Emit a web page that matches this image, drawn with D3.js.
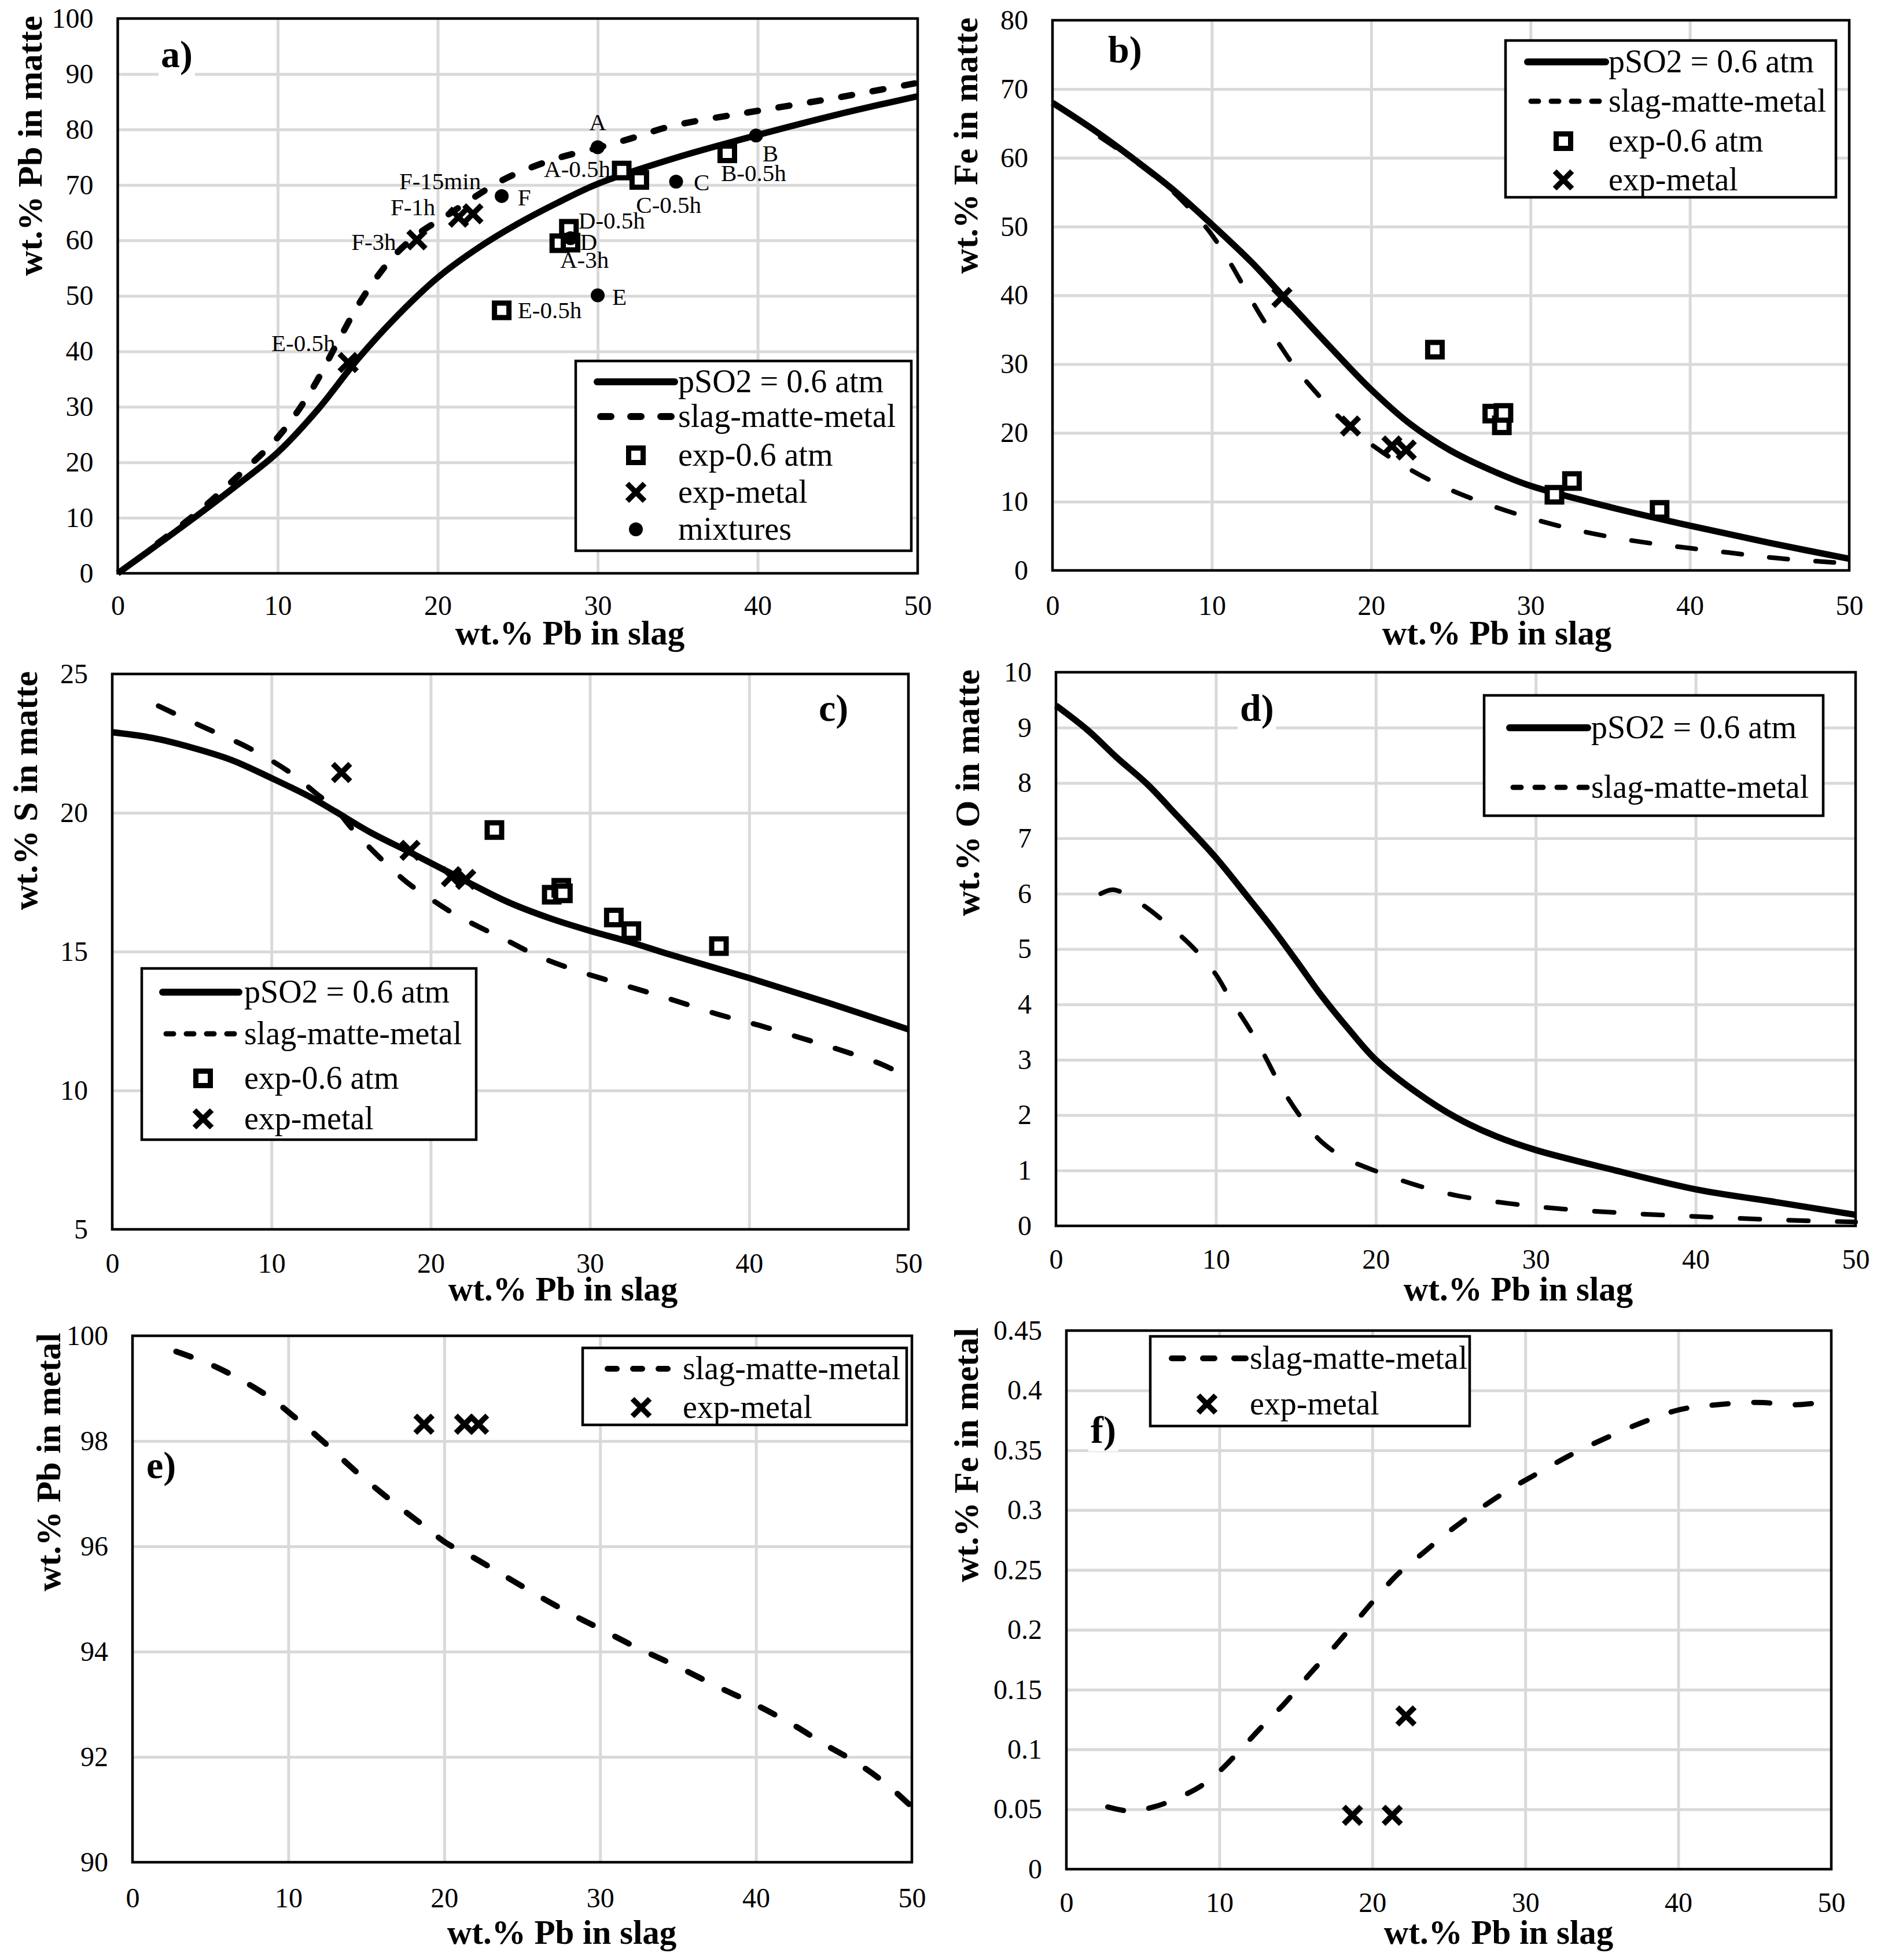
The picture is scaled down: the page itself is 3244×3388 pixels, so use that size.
<!DOCTYPE html>
<html>
<head>
<meta charset="utf-8">
<script src="https://cdnjs.cloudflare.com/ajax/libs/d3/7.8.5/d3.min.js"></script>
<style>
  body { margin: 0; background: #fff; }
  svg text { font-family: "Liberation Serif", "Times New Roman", serif; fill: #000; }
</style>
</head>
<body>
<div id="chart"></div>
<script>
// ---- tick labels ----
var xTicks = [0, 10, 20, 30, 40, 50];
var pbMatteTicks = [0, 10, 20, 30, 40, 50, 60, 70, 80, 90, 100];
var feMatteTicks = [0, 10, 20, 30, 40, 50, 60, 70, 80];
var sMatteTicks = [5, 10, 15, 20, 25];
var oMatteTicks = [0, 1, 2, 3, 4, 5, 6, 7, 8, 9, 10];
var pbMetalTicks = [90, 92, 94, 96, 98, 100];
var feMetalTicks = [0, 0.05, 0.1, 0.15, 0.2, 0.25, 0.3, 0.35, 0.4, 0.45];

// ---- model curves (wt.% Pb in slag on x) ----
var aPso2X = [0, 2.5, 5, 7.5, 10, 12.5, 15, 17.5, 20, 22.5, 25, 27.5, 30, 35, 40, 45, 50];
var aPso2Y = [0, 5.2, 10.5, 16, 21.8, 29.5, 38.6, 46.5, 53.3, 58.6, 63.0, 66.8, 70.2, 75, 79, 82.7, 86];
var aSmmX = [2.5, 5, 7.5, 10, 12, 13.9, 15, 16.1, 17.3, 18.7, 20, 21, 22.4, 24, 25.8, 27.7, 30, 32.1, 34.2, 36.3, 38.4, 40.3, 42.4, 44.5, 47, 50];
var aSmmY = [5.4, 11, 17.5, 24.5, 32.5, 42.5, 48.2, 53, 57.3, 61, 63.5, 65.3, 68, 70.8, 73.1, 75, 76.7, 78.4, 80.3, 81.6, 82.6, 83.5, 84.5, 85.5, 86.8, 88.4];

var bPso2X = [0, 2.5, 5, 7.5, 10, 12.5, 14.3, 17.5, 20, 22.5, 25, 27.5, 30, 35, 40, 45, 50];
var bPso2Y = [68, 64.2, 60, 55.5, 50.3, 44.8, 40.3, 32.3, 26.3, 21.2, 17.4, 14.6, 12.3, 9.2, 6.5, 4.0, 1.7];
var bSmmX = [3, 5, 7.5, 9.3, 10, 11, 12, 13, 14.2, 15.3, 16.8, 18.3, 20.2, 22.2, 24.5, 27.2, 30.3, 33.4, 36.5, 39.4, 42.4, 45.4, 48.8, 50];
var bSmmY = [63, 59.8, 55.2, 50.8, 48.8, 45.3, 41.3, 37.3, 33, 29.3, 25.2, 21.6, 18, 15, 12.2, 9.7, 7.4, 5.6, 4.3, 3.4, 2.6, 1.8, 1.2, 1.0];

var cPso2X = [0, 2.5, 5, 7.5, 10, 12.5, 14, 16.2, 18.8, 21.5, 24.8, 27.5, 30, 32.5, 35, 40, 45, 50];
var cPso2Y = [22.9, 22.7, 22.35, 21.9, 21.25, 20.55, 20.05, 19.3, 18.55, 17.75, 16.8, 16.2, 15.75, 15.35, 14.9, 14.05, 13.15, 12.2];
var cSmmX = [2.9, 5.3, 8.7, 11.3, 12.8, 14, 15.1, 16.6, 18.5, 20, 21.5, 23, 24.8, 26.7, 29, 32.4, 35, 38, 40.6, 43.2, 45.5, 48.5, 50];
var cSmmY = [23.85, 23.2, 22.3, 21.4, 20.7, 20.15, 19.4, 18.5, 17.5, 16.9, 16.35, 15.9, 15.4, 14.85, 14.35, 13.75, 13.3, 12.75, 12.35, 11.9, 11.5, 10.9, 10.45];

var dPso2X = [0, 2, 3.8, 5.7, 7.6, 10, 12.1, 13.6, 15.1, 16.6, 18.4, 20, 22.6, 25, 27.5, 30, 35, 40, 45, 50];
var dPso2Y = [9.4, 8.95, 8.46, 7.98, 7.4, 6.65, 5.9, 5.35, 4.76, 4.16, 3.52, 3.0, 2.4, 1.96, 1.62, 1.37, 1.0, 0.66, 0.43, 0.2];
var dSmmX = [2.8, 3.6, 5.3, 7, 8.7, 10, 10.9, 12.1, 13, 14.1, 15.3, 16.6, 18.1, 20, 22.6, 25.2, 30, 35, 40, 45, 50];
var dSmmY = [6.0, 6.07, 5.82, 5.44, 4.99, 4.54, 4.1, 3.56, 3.1, 2.5, 1.97, 1.52, 1.22, 0.99, 0.73, 0.54, 0.35, 0.24, 0.17, 0.11, 0.07];

var eSmmX = [2.8, 4.9, 6.8, 8.75, 10.3, 12.2, 14.5, 16.8, 18.7, 20.1, 21.8, 24.1, 26.4, 28.3, 29.9, 32.2, 34.8, 37.5, 40, 42.5, 44.4, 46.4, 48.3, 50];
var eSmmY = [99.7, 99.47, 99.19, 98.84, 98.48, 98.0, 97.38, 96.82, 96.39, 96.07, 95.8, 95.4, 95.0, 94.69, 94.45, 94.1, 93.74, 93.34, 92.99, 92.59, 92.24, 91.9, 91.5, 91.05];

var fSmmX = [2.7, 4.1, 5.7, 7.2, 8.8, 10, 11.2, 12.7, 14.3, 15.9, 17.4, 19, 20.2, 21.7, 23.3, 24.9, 26.8, 28.8, 30.7, 33.1, 35.4, 37.8, 40.1, 42.5, 45.2, 47.6, 50];
var fSmmY = [0.052, 0.0486, 0.052, 0.059, 0.0695, 0.0817, 0.0973, 0.118, 0.139, 0.163, 0.184, 0.208, 0.226, 0.247, 0.264, 0.281, 0.299, 0.316, 0.330, 0.347, 0.361, 0.374, 0.384, 0.388, 0.390, 0.388, 0.391];

// ---- experiments ----
var expAtmX = [24.0, 27.6, 28.2, 28.3, 31.5, 32.6, 38.1];
var expAtmPbMatte = [47.4, 59.5, 62.1, 59.6, 72.6, 70.9, 75.7];
var expAtmFeMatte = [32.1, 22.8, 21.1, 22.9, 11.0, 13.0, 8.8];
var expAtmSMatte = [19.38, 17.05, 17.3, 17.1, 16.23, 15.74, 15.2];

var expMetalX = [14.4, 18.7, 21.3, 22.2];
var expMetalPbMatte = [38.0, 60.1, 64.2, 64.8];
var expMetalFeMatte = [39.7, 21.0, 18.1, 17.5];
var expMetalSMatte = [21.45, 18.65, 17.7, 17.6];
var expMetalMetalX = [18.7, 21.3, 22.2];
var expMetalPbMetal = [98.32, 98.32, 98.32];
var expMetalFeMetal = [0.045, 0.045, 0.128];

var mixNames = ["A", "B", "C", "D", "E", "F"];
var mixX = [30.0, 39.9, 34.9, 28.3, 30.0, 24.0];
var mixPbMatte = [76.8, 78.9, 70.6, 60.4, 50.1, 68.0];

// point labels in panel a: text, x, y, anchor
var noteText = ["A", "A-0.5h", "B", "B-0.5h", "C", "C-0.5h", "D-0.5h", "D", "A-3h", "E", "E-0.5h", "F", "F-15min", "F-1h", "F-3h", "E-0.5h"];
var noteX = [30.0, 30.8, 40.3, 37.7, 36.0, 32.4, 28.8, 28.9, 27.65, 30.9, 25.0, 25.0, 22.7, 19.85, 17.4, 13.6];
var noteY = [79.9, 71.4, 74.2, 70.7, 69.0, 65.0, 62.2, 58.3, 55.1, 48.4, 46.0, 66.3, 69.2, 64.5, 58.3, 40.0];
var noteAnchor = ["middle", "end", "start", "start", "start", "start", "start", "start", "start", "start", "start", "start", "end", "end", "end", "end"];

var pso2Label = "pSO2 = 0.6 atm";
var smmLabel = "slag-matte-metal";
var atmLabel = "exp-0.6 atm";
var metalLabel = "exp-metal";
var mixLabel = "mixtures";

function zip(xs, ys) { return xs.map(function(v, i) { return [v, ys[i]]; }); }

var svgWidth = 3244;
var svgHeight = 3388;

var svg = d3.select("#chart").append("svg")
  .attr("width", svgWidth)
  .attr("height", svgHeight)
  .attr("viewBox", "0 0 " + svgWidth + " " + svgHeight);

svg.append("rect").attr("width", svgWidth).attr("height", svgHeight).attr("fill", "#fff");

var panels = [
  { tag: "a)", tagX: 278, tagY: 116, left: 203.5, right: 1586, top: 32, bottom: 991,
    yDomain: [0, 100], yTicks: pbMatteTicks, yTitle: "wt.% Pb in matte", yTitleX: 72,
    xTitleX: 985, xTitleY: 1114, xPad: 38,
    solid: zip(aPso2X, aPso2Y), dashed: zip(aSmmX, aSmmY), dashW: 11, dash: "19,36",
    squares: zip(expAtmX, expAtmPbMatte), crosses: zip(expMetalX, expMetalPbMatte),
    dots: zip(mixX, mixPbMatte), notes: true,
    legend: { x0: 995, y0: 624, x1: 1575, y1: 952, lx0: 1032, lx1: 1166, mx: 1099, tx: 1172,
      rows: [660, 720, 787, 851, 915], dash: "18,34", dashW: 12,
      items: [["solid", pso2Label], ["dashed", smmLabel], ["square", atmLabel], ["cross", metalLabel], ["dot", mixLabel]] } },
  { tag: "b)", tagX: 1915, tagY: 108, left: 1819, right: 3196, top: 35, bottom: 986,
    yDomain: [0, 80], yTicks: feMatteTicks, yTitle: "wt.% Fe in matte", yTitleX: 1689,
    xTitleX: 2587, xTitleY: 1114, xPad: 43,
    solid: zip(bPso2X, bPso2Y), dashed: zip(bSmmX, bSmmY), dashW: 8, dash: "32,48",
    squares: zip(expAtmX, expAtmFeMatte), crosses: zip(expMetalX, expMetalFeMatte),
    legend: { x0: 2602, y0: 70, x1: 3173, y1: 341, lx0: 2640, lx1: 2775, mx: 2702, tx: 2780,
      rows: [107, 175, 244, 311], dash: "13,22", dashW: 9,
      items: [["solid", pso2Label], ["dashed", smmLabel], ["square", atmLabel], ["cross", metalLabel]] } },
  { tag: "c)", tagX: 1415, tagY: 1246, left: 194, right: 1570, top: 1165, bottom: 2125,
    yDomain: [5, 25], yTicks: sMatteTicks, yTitle: "wt.% S in matte", yTitleX: 64,
    xTitleX: 973, xTitleY: 2248, xPad: 41,
    solid: zip(cPso2X, cPso2Y), dashed: zip(cSmmX, cSmmY), dashW: 9, dash: "29,45",
    squares: zip(expAtmX, expAtmSMatte), crosses: zip(expMetalX, expMetalSMatte),
    legend: { x0: 245, y0: 1674, x1: 823, y1: 1970, lx0: 281, lx1: 413, mx: 351, tx: 422,
      rows: [1715, 1787, 1864, 1934], dash: "13,22", dashW: 9,
      items: [["solid", pso2Label], ["dashed", smmLabel], ["square", atmLabel], ["cross", metalLabel]] } },
  { tag: "d)", tagX: 2143, tagY: 1246, left: 1825, right: 3207, top: 1162, bottom: 2119,
    yDomain: [0, 10], yTicks: oMatteTicks, yTitle: "wt.% O in matte", yTitleX: 1692,
    xTitleX: 2624, xTitleY: 2248, xPad: 40,
    solid: zip(dPso2X, dPso2Y), dashed: zip(dSmmX, dSmmY), dashW: 8, dash: "34,50",
    legend: { x0: 2565, y0: 1202, x1: 3151, y1: 1410, lx0: 2609, lx1: 2744, mx: 2676, tx: 2750,
      rows: [1258, 1361], dash: "14,24", dashW: 9,
      items: [["solid", pso2Label], ["dashed", smmLabel]] } },
  { tag: "e)", tagX: 253, tagY: 2555, left: 229, right: 1576, top: 2309, bottom: 3219,
    yDomain: [90, 100], yTicks: pbMetalTicks, yTitle: "wt.% Pb in metal", yTitleX: 104,
    xTitleX: 971, xTitleY: 3360, xPad: 44,
    dashed: zip(eSmmX, eSmmY), dashW: 10, dash: "27,43",
    crosses: zip(expMetalMetalX, expMetalPbMetal),
    legend: { x0: 1007, y0: 2330, x1: 1567, y1: 2463, lx0: 1044, lx1: 1173, mx: 1108, tx: 1180,
      rows: [2366, 2433], dash: "16,28", dashW: 10,
      items: [["dashed", smmLabel], ["cross", metalLabel]] } },
  { tag: "f)", tagX: 1885, tagY: 2494, left: 1843, right: 3165, top: 2300, bottom: 3231,
    yDomain: [0, 0.45], yTicks: feMetalTicks, yTitle: "wt.% Fe in metal", yTitleX: 1690,
    xTitleX: 2590, xTitleY: 3360, xPad: 40,
    dashed: zip(fSmmX, fSmmY), dashW: 9, dash: "28,44",
    crosses: zip(expMetalMetalX, expMetalFeMetal),
    legend: { x0: 1988, y0: 2310, x1: 2540, y1: 2465, lx0: 2019, lx1: 2153, mx: 2086, tx: 2160,
      rows: [2348, 2427], dash: "20,34", dashW: 10,
      items: [["dashed", smmLabel], ["cross", metalLabel]] } }
];

var fmt = function(d) { return String(+d.toFixed(2)); };
var crossPath = "M-15,-15L15,15M-15,15L15,-15";

function drawSquare(g, cx, cy) {
  g.append("rect")
    .attr("x", cx - 12.5).attr("y", cy - 12.5)
    .attr("width", 25).attr("height", 25)
    .attr("fill", "#fff").attr("stroke", "#000").attr("stroke-width", 9);
}
function drawCross(g, cx, cy) {
  g.append("path")
    .attr("d", crossPath)
    .attr("transform", "translate(" + cx + "," + cy + ")")
    .attr("fill", "none").attr("stroke", "#000").attr("stroke-width", 9.5);
}
function drawDot(g, cx, cy) {
  g.append("circle").attr("cx", cx).attr("cy", cy).attr("r", 12).attr("fill", "#000");
}

panels.forEach(function(p) {
  var x = d3.scaleLinear().domain([0, 50]).range([p.left, p.right]);
  var y = d3.scaleLinear().domain(p.yDomain).range([p.bottom, p.top]);
  var w = p.right - p.left, h = p.bottom - p.top;
  var g = svg.append("g");

  // gridlines (no text)
  var gx = g.append("g")
    .attr("transform", "translate(0," + p.bottom + ")")
    .call(d3.axisBottom(x).tickValues(xTicks.slice(1, -1)).tickSize(-h).tickFormat(""));
  gx.select(".domain").remove();
  gx.selectAll("text").remove();
  gx.selectAll("line").attr("stroke", "#d9d9d9").attr("stroke-width", 5);
  var gy = g.append("g")
    .attr("transform", "translate(" + p.left + ",0)")
    .call(d3.axisLeft(y).tickValues(p.yTicks.slice(1, -1)).tickSize(-w).tickFormat(""));
  gy.select(".domain").remove();
  gy.selectAll("text").remove();
  gy.selectAll("line").attr("stroke", "#d9d9d9").attr("stroke-width", 5);

  // tick labels
  var ax = g.append("g")
    .attr("transform", "translate(0," + p.bottom + ")")
    .call(d3.axisBottom(x).tickValues(xTicks).tickSize(0).tickPadding(p.xPad).tickFormat(fmt))
    .attr("font-size", 48).attr("font-family", "Liberation Serif");
  ax.select(".domain").remove();
  ax.selectAll("line").remove();
  var ay = g.append("g")
    .attr("transform", "translate(" + p.left + ",0)")
    .call(d3.axisLeft(y).tickValues(p.yTicks).tickSize(0).tickPadding(42).tickFormat(fmt))
    .attr("font-size", 48).attr("font-family", "Liberation Serif");
  ay.select(".domain").remove();
  ay.selectAll("line").remove();

  // axis titles
  g.append("text")
    .attr("x", p.xTitleX).attr("y", p.xTitleY)
    .attr("text-anchor", "middle")
    .attr("font-size", 59).attr("font-weight", "bold")
    .text("wt.% Pb in slag");
  g.append("text")
    .attr("transform", "translate(" + p.yTitleX + "," + (p.top - 5) + ") rotate(-90)")
    .attr("text-anchor", "end")
    .attr("font-size", 60).attr("font-weight", "bold")
    .text(p.yTitle);

  // panel letter on white
  var tagG = g.append("g");
  var tag = tagG.append("text")
    .attr("x", p.tagX).attr("y", p.tagY)
    .attr("font-size", 66).attr("font-weight", "bold")
    .text(p.tag);
  var bb = tag.node().getBBox();
  tagG.insert("rect", "text")
    .attr("x", bb.x - 4).attr("y", bb.y)
    .attr("width", bb.width + 8).attr("height", bb.height)
    .attr("fill", "#fff");

  // frame
  g.append("rect")
    .attr("x", p.left).attr("y", p.top).attr("width", w).attr("height", h)
    .attr("fill", "none").attr("stroke", "#000").attr("stroke-width", 4.5);

  var line = d3.line()
    .x(function(d) { return x(d[0]); })
    .y(function(d) { return y(d[1]); })
    .curve(d3.curveCatmullRom.alpha(0.5));

  if (p.solid) {
    g.append("path").datum(p.solid)
      .attr("d", line).attr("fill", "none")
      .attr("stroke", "#000").attr("stroke-width", 11);
  }
  if (p.dashed) {
    g.append("path").datum(p.dashed)
      .attr("d", line).attr("fill", "none")
      .attr("stroke", "#000").attr("stroke-width", p.dashW)
      .attr("stroke-linecap", "round")
      .attr("stroke-dasharray", p.dash);
  }

  var mk = g.append("g");
  (p.squares || []).forEach(function(d) { drawSquare(mk, x(d[0]), y(d[1])); });
  (p.crosses || []).forEach(function(d) { drawCross(mk, x(d[0]), y(d[1])); });
  (p.dots || []).forEach(function(d) { drawDot(mk, x(d[0]), y(d[1])); });

  if (p.notes) {
    noteText.forEach(function(t, i) {
      g.append("text")
        .attr("x", x(noteX[i])).attr("y", y(noteY[i]))
        .attr("text-anchor", noteAnchor[i])
        .attr("font-size", 41)
        .text(t);
    });
  }

  // legend
  var L = p.legend;
  var lg = g.append("g");
  lg.append("rect")
    .attr("x", L.x0).attr("y", L.y0)
    .attr("width", L.x1 - L.x0).attr("height", L.y1 - L.y0)
    .attr("fill", "#fff").attr("stroke", "#000").attr("stroke-width", 4.5);
  L.items.forEach(function(it, i) {
    var ry = L.rows[i];
    if (it[0] === "solid") {
      lg.append("line").attr("x1", L.lx0).attr("x2", L.lx1).attr("y1", ry).attr("y2", ry)
        .attr("stroke", "#000").attr("stroke-width", 12).attr("stroke-linecap", "round");
    } else if (it[0] === "dashed") {
      lg.append("line").attr("x1", L.lx0 + 6).attr("x2", L.lx1).attr("y1", ry).attr("y2", ry)
        .attr("stroke", "#000").attr("stroke-width", L.dashW).attr("stroke-linecap", "round")
        .attr("stroke-dasharray", L.dash);
    } else if (it[0] === "square") {
      drawSquare(lg, L.mx, ry);
    } else if (it[0] === "cross") {
      drawCross(lg, L.mx, ry);
    } else {
      drawDot(lg, L.mx, ry);
    }
    lg.append("text")
      .attr("x", L.tx).attr("y", ry).attr("dy", "0.33em")
      .attr("font-size", 56)
      .text(it[1]);
  });
});
</script>
</body>
</html>
